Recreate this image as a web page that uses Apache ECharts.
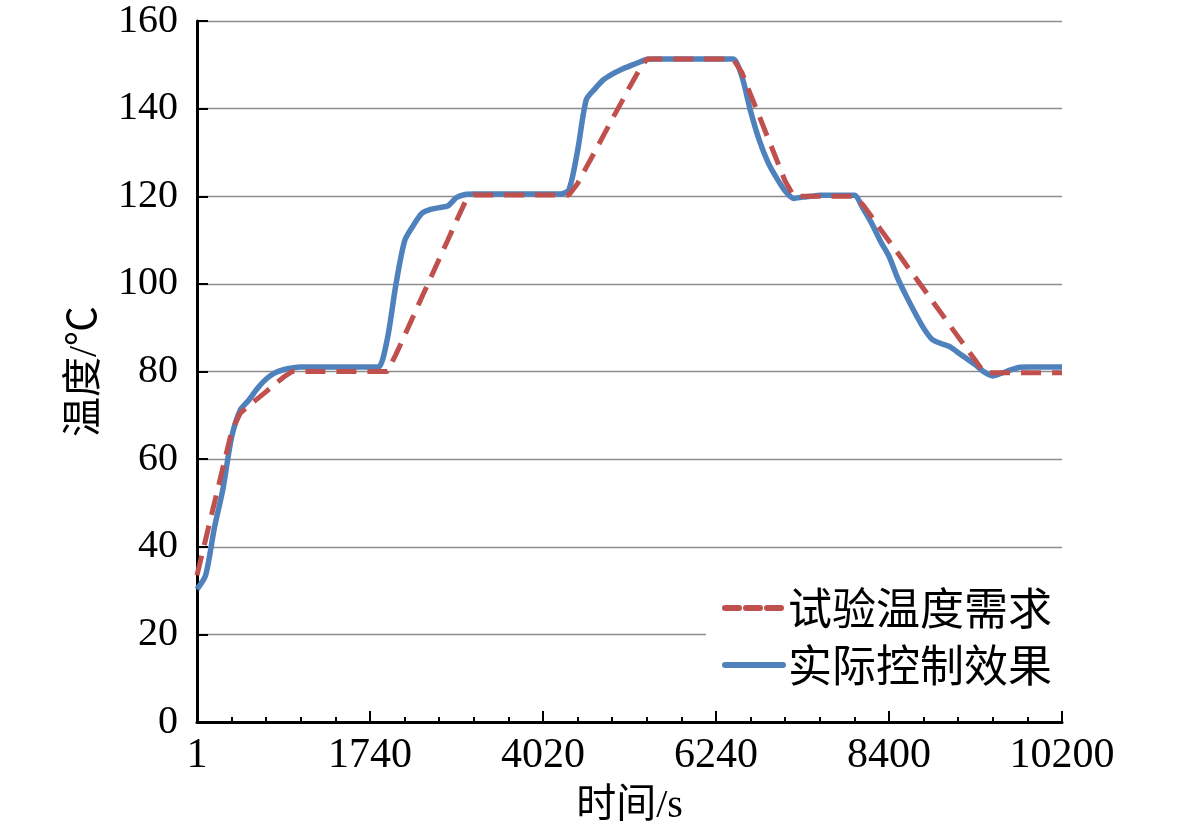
<!DOCTYPE html>
<html>
<head>
<meta charset="utf-8">
<script src="https://cdn.jsdelivr.net/npm/echarts@6/dist/echarts.min.js"></script>
<style>
html,body{margin:0;padding:0;background:#fff;}
#chart{width:1181px;height:837px;}
</style>
</head>
<body>
<div id="chart"></div>
<script>
// x-axis tick labels (time, s) shown at every 20th sample
var tickLabels = ['1', '1740', '4020', '6240', '8400', '10200'];
var seriesNames = ['试验温度需求', '实际控制效果'];
// 试验温度需求 (demand), 101 samples
var demand = [
  33.5, 41.7, 49.9, 58.1, 66.3, 70.5, 72.2, 73.8, 75.4, 77.1,
  78.7, 80.0, 80.0, 80.0, 80.0, 80.0, 80.0, 80.0, 80.0, 80.0,
  80.0, 80.0, 80.0, 83.9, 88.2, 92.6, 97.0, 101.3, 105.7, 110.0,
  114.4, 118.7, 120.3, 120.3, 120.3, 120.3, 120.3, 120.3, 120.3, 120.3,
  120.3, 120.3, 120.3, 120.3, 122.9, 126.6, 130.2, 133.9, 137.6, 141.2,
  144.9, 148.4, 151.3, 151.3, 151.3, 151.3, 151.3, 151.3, 151.3, 151.3,
  151.3, 151.3, 151.3, 148.2, 143.2, 138.3, 133.3, 128.4, 123.4, 120.0,
  120.0, 120.0, 120.0, 120.0, 120.0, 120.0, 120.0, 118.0, 115.3, 112.5,
  109.8, 107.1, 104.3, 101.6, 98.9, 96.1, 93.4, 90.6, 87.9, 85.2,
  82.5, 79.7, 79.7, 79.7, 79.7, 79.7, 79.7, 79.7, 79.7, 79.7,
  79.7
];
// 实际控制效果 (actual), 101 samples
var actual = [
  30.3, 33.5, 44.2, 53.2, 65.0, 71.2, 73.5, 76.2, 78.3, 79.7,
  80.4, 80.8, 81.0, 81.0, 81.0, 81.0, 81.0, 81.0, 81.0, 81.0,
  81.0, 81.0, 87.4, 99.9, 109.8, 113.3, 116.1, 117.0, 117.4, 117.8,
  119.7, 120.4, 120.5, 120.5, 120.5, 120.5, 120.5, 120.5, 120.5, 120.5,
  120.5, 120.5, 120.5, 121.5, 130.4, 142.0, 144.5, 146.6, 147.9, 148.9,
  149.7, 150.5, 151.2, 151.3, 151.3, 151.3, 151.3, 151.3, 151.3, 151.3,
  151.3, 151.3, 151.3, 147.3, 139.4, 132.8, 127.8, 124.2, 121.2, 119.5,
  119.8, 120.0, 120.2, 120.2, 120.2, 120.2, 120.2, 117.2, 113.8, 109.8,
  106.3, 101.3, 97.2, 93.4, 89.9, 87.3, 86.4, 85.7, 84.3, 82.9,
  81.5, 79.9, 79.0, 79.6, 80.3, 80.9, 81.0, 81.0, 81.0, 81.0,
  81.0
];

var serif = "'Liberation Serif', 'Times New Roman', 'Noto Sans CJK SC', serif";
var cjk = "'Noto Sans CJK SC', sans-serif";
var RED = '#C0504D', BLUE = '#4F81BD';

function pairs(arr) { return arr.map(function (v, i) { return [i, v]; }); }

var chart = echarts.init(document.getElementById('chart'));
chart.setOption({
  backgroundColor: '#fff',
  animation: false,
  grid: { left: 197, right: 119, top: 21, bottom: 115 },
  xAxis: {
    type: 'value', min: 0, max: 100, interval: 20,
    name: '时间/s', nameLocation: 'middle', nameGap: 64,
    nameTextStyle: { fontFamily: serif, fontSize: 40, color: '#000' },
    axisLine: { show: true, onZero: false, lineStyle: { color: '#000', width: 3 } },
    axisTick: { show: true, inside: true, length: 11, lineStyle: { color: '#000', width: 2 } },
    minorTick: { show: true, splitNumber: 5, length: 5, lineStyle: { color: '#000', width: 2 } },
    axisLabel: {
      margin: 13, fontFamily: serif, fontSize: 42, color: '#000',
      formatter: function (v) { return tickLabels[Math.round(v / 20)]; }
    },
    splitLine: { show: false }
  },
  yAxis: {
    type: 'value', min: 0, max: 160, interval: 20,
    name: '温度/℃', nameLocation: 'middle', nameRotate: 90, nameGap: 92,
    nameTextStyle: { fontFamily: serif, fontSize: 40, color: '#000' },
    axisLine: { show: true, lineStyle: { color: '#000', width: 3 } },
    axisTick: { show: true, inside: true, length: 11, lineStyle: { color: '#000', width: 2 } },
    axisLabel: { margin: 19, fontFamily: serif, fontSize: 40, color: '#000' },
    splitLine: { show: true, lineStyle: { color: '#8c8c8c', width: 1.3 } }
  },
  legend: {
    orient: 'vertical', left: 706, top: 576,
    padding: [10, 20, 10, 16],
    backgroundColor: '#fff',
    itemWidth: 58, itemHeight: 14, itemGap: 13,
    itemStyle: { color: 'rgba(0,0,0,0)', borderColor: 'rgba(0,0,0,0)', borderWidth: 0, opacity: 0 },
    textStyle: { fontFamily: cjk, fontSize: 44, color: '#000' },
    data: [
      { name: seriesNames[0], lineStyle: { type: [14, 7], width: 6, cap: 'round' } },
      { name: seriesNames[1], lineStyle: { width: 6, cap: 'round' } }
    ]
  },
  series: [
    {
      name: seriesNames[1], type: 'line', data: pairs(actual),
      showSymbol: false, symbol: 'none', z: 2, smooth: 0.25,
      lineStyle: { color: BLUE, width: 5.5, join: 'round' },
      itemStyle: { color: BLUE }
    },
    {
      name: seriesNames[0], type: 'line', data: pairs(demand),
      showSymbol: false, symbol: 'none', z: 3,
      lineStyle: { color: RED, width: 5, type: [20, 11], cap: 'butt' },
      itemStyle: { color: RED }
    }
  ]
});
</script>
</body>
</html>
